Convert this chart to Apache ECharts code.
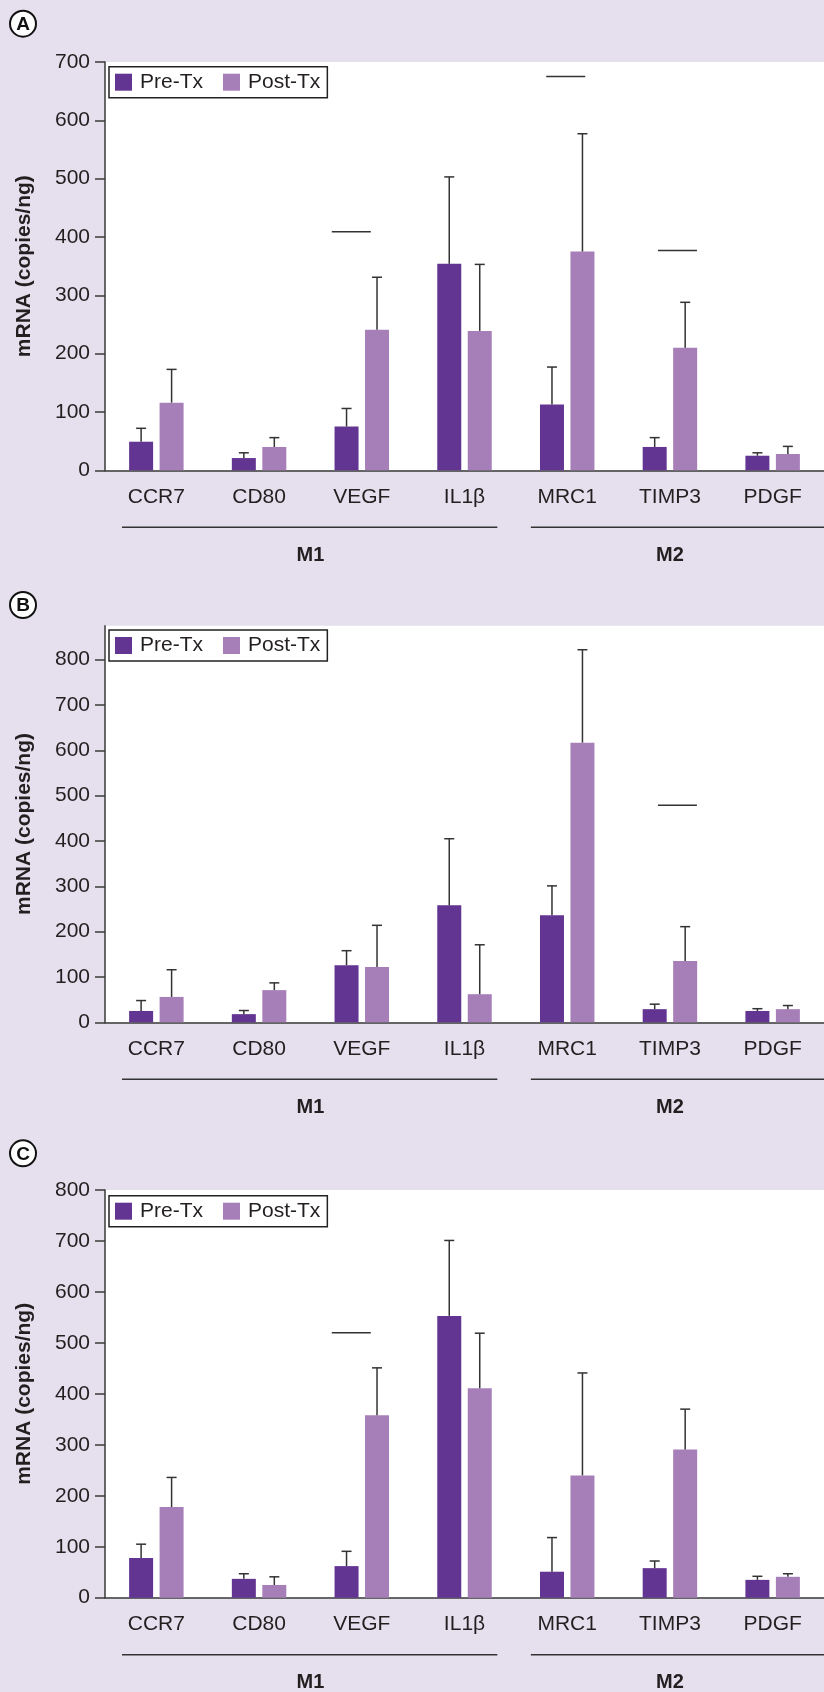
<!DOCTYPE html>
<html>
<head>
<meta charset="utf-8">
<script src="https://cdn.jsdelivr.net/npm/echarts@6/dist/echarts.min.js"></script>
<style>
html,body{margin:0;padding:0;background:#E6E0EE;}
#chart{width:824px;height:1692px;}
</style>
</head>
<body>
<div id="chart"></div>
<script>
// ---------- DATA ----------
const categories = ['CCR7', 'CD80', 'VEGF', 'IL1β', 'MRC1', 'TIMP3', 'PDGF'];
const seriesNames = ['Pre-Tx', 'Post-Tx'];
const panelLetters = ['A', 'B', 'C'];
const yTicksA = [0, 100, 200, 300, 400, 500, 600, 700];
const yTicksB = [0, 100, 200, 300, 400, 500, 600, 700, 800];
const yTicksC = [0, 100, 200, 300, 400, 500, 600, 700, 800];
const yMaxA = 700, yMaxB = 875, yMaxC = 800;

// Panel A
const preA     = [49, 21, 75, 354, 113, 40, 25];
const preErrA  = [72, 30, 106, 503, 177, 56, 30];
const postA    = [116, 40, 241, 239, 375, 210, 28];
const postErrA = [173, 56, 331, 353, 577, 288, 41];
const sigA     = [[2, 409], [4, 675], [5, 377]];   // [category index, value]

// Panel B
const preB     = [25, 18, 126, 258, 236, 29, 25];
const preErrB  = [48, 26, 158, 405, 301, 40, 30];
const postB    = [56, 71, 122, 62, 617, 135, 29];
const postErrB = [116, 87, 214, 171, 822, 211, 37];
const sigB     = [[5, 479]];

// Panel C
const preC     = [78, 37, 62, 553, 51, 58, 35];
const preErrC  = [105, 47, 91, 701, 118, 72, 42];
const postC    = [178, 25, 358, 411, 240, 291, 41];
const postErrC = [236, 41, 451, 519, 441, 370, 47];
const sigC     = [[2, 520]];

// Category groups: [label, first category index, last category index]
const groups = [['M1', 0, 3], ['M2', 4, 6]];

// ---------- STYLE ----------
const FONT = "'Liberation Sans', Arial, Helvetica, sans-serif";
const PRE_COLOR = '#633592';
const POST_COLOR = '#A67FB9';
const INK = '#231F20';
const AXIS = '#3a3a3a';
const BAR_W = 24;
const BAR_GAP = 0.27;
const HALF_OFF = (BAR_W + BAR_W * BAR_GAP) / 2;
// horizontal placement of significance lines relative to category centre (px)
const sigOffset = {2: -30, 4: -21, 5: -12};
const SIG_W = 39;
// group bracket insets [left, right] in px from the band edges
const groupInsets = [[17, 18.5], [15, -12]];

const gridsLayout = [
  {left: 105, right: -9, top: 62,    height: 408.3},
  {left: 105, right: -9, top: 625.7, height: 396.6},
  {left: 105, right: -9, top: 1190,  height: 407.7}
];
const legendTops = [66.7, 630, 1195.7];
const letterPos = [[23, 23.7], [23, 605], [23, 1153.3]];

const panels = [
  {pre: preA, preErr: preErrA, post: postA, postErr: postErrA, sig: sigA, ticks: yTicksA, max: yMaxA},
  {pre: preB, preErr: preErrB, post: postB, postErr: postErrB, sig: sigB, ticks: yTicksB, max: yMaxB},
  {pre: preC, preErr: preErrC, post: postC, postErr: postErrC, sig: sigC, ticks: yTicksC, max: yMaxC}
];

function errRender(offset) {
  return function (params, api) {
    const i = api.value(0), top = api.value(1), base = api.value(2);
    const p0 = api.coord([i, base]);
    const p1 = api.coord([i, top]);
    const x = p0[0] + offset;
    const st = {stroke: '#333', lineWidth: 1.5};
    return {type: 'group', children: [
      {type: 'line', shape: {x1: x, y1: p0[1], x2: x, y2: p1[1]}, style: st},
      {type: 'line', shape: {x1: x - 5, y1: p1[1], x2: x + 5, y2: p1[1]}, style: st}
    ]};
  };
}

function sigRender(params, api) {
  const i = api.value(0), v = api.value(1);
  const p = api.coord([i, v]);
  const x1 = p[0] + (sigOffset[i] || -SIG_W / 2);
  return {type: 'line', shape: {x1: x1, y1: p[1], x2: x1 + SIG_W, y2: p[1]},
          style: {stroke: '#333', lineWidth: 1.5}};
}

function groupRender(params, api) {
  const a = api.coord([api.value(0), 0]);
  const b = api.coord([api.value(1), 0]);
  const bw = api.size([1, 0])[0];
  const ins = groupInsets[params.dataIndex];
  const x1 = a[0] - bw / 2 + ins[0];
  const x2 = b[0] + bw / 2 - ins[1];
  const cx = (a[0] - bw / 2 + b[0] + bw / 2) / 2;
  const y = a[1];
  return {type: 'group', children: [
    {type: 'line', shape: {x1: x1, y1: y + 57, x2: x2, y2: y + 57},
     style: {stroke: '#333', lineWidth: 1.5}},
    {type: 'text', style: {text: groups[params.dataIndex][0], x: cx, y: y + 85,
      align: 'center', verticalAlign: 'middle', fill: INK,
      font: 'bold 20px ' + FONT}}
  ]};
}

const grid = [], xAxis = [], yAxis = [], series = [], legend = [], graphic = [];

panels.forEach((pn, k) => {
  grid.push(Object.assign({show: true, backgroundColor: '#ffffff', borderWidth: 0}, gridsLayout[k]));
  xAxis.push({
    type: 'category', gridIndex: k, data: categories,
    axisLine: {lineStyle: {color: AXIS, width: 1.5}},
    axisTick: {length: 12, lineStyle: {color: AXIS, width: 1.5}},
    axisLabel: {fontSize: 21, color: INK, fontFamily: FONT, margin: 16},
    splitLine: {show: false}
  });
  yAxis.push({
    type: 'value', gridIndex: k, min: 0, max: pn.max, interval: 100,
    name: 'mRNA (copies/ng)', nameLocation: 'middle', nameGap: 70, nameRotate: 90,
    nameTextStyle: {fontSize: 21, fontWeight: 'bold', color: INK, fontFamily: FONT},
    axisLine: {show: true, lineStyle: {color: AXIS, width: 1.5}},
    axisTick: {show: true, length: 10, lineStyle: {color: AXIS, width: 1.5}, customValues: pn.ticks},
    axisLabel: {fontSize: 21, color: INK, fontFamily: FONT, margin: 15, customValues: pn.ticks},
    splitLine: {show: false}
  });
  series.push({
    name: seriesNames[0], type: 'bar', xAxisIndex: k, yAxisIndex: k,
    data: pn.pre, barWidth: BAR_W, barGap: (BAR_GAP * 100) + '%',
    itemStyle: {color: PRE_COLOR}
  });
  series.push({
    name: seriesNames[1], type: 'bar', xAxisIndex: k, yAxisIndex: k,
    data: pn.post, barWidth: BAR_W, barGap: (BAR_GAP * 100) + '%',
    itemStyle: {color: POST_COLOR}
  });
  series.push({
    name: 'errPre' + k, type: 'custom', xAxisIndex: k, yAxisIndex: k, z: 3,
    renderItem: errRender(-HALF_OFF), clip: false,
    data: pn.pre.map((v, i) => [i, pn.preErr[i], v])
  });
  series.push({
    name: 'errPost' + k, type: 'custom', xAxisIndex: k, yAxisIndex: k, z: 3,
    renderItem: errRender(HALF_OFF), clip: false,
    data: pn.post.map((v, i) => [i, pn.postErr[i], v])
  });
  series.push({
    name: 'sig' + k, type: 'custom', xAxisIndex: k, yAxisIndex: k, z: 3,
    renderItem: sigRender, clip: false, data: pn.sig
  });
  series.push({
    name: 'groups' + k, type: 'custom', xAxisIndex: k, yAxisIndex: k, z: 3,
    renderItem: groupRender, clip: false, data: groups.map(g => [g[1], g[2]])
  });
  legend.push({
    data: seriesNames, left: 109, top: legendTops[k], orient: 'horizontal',
    icon: 'rect', itemWidth: 17, itemHeight: 17, itemGap: 20,
    backgroundColor: '#ffffff', borderColor: '#222', borderWidth: 1.5, borderRadius: 0,
    padding: [5, 7, 5, 6], selectedMode: false,
    textStyle: {fontSize: 21, color: INK, fontFamily: FONT, padding: [0, 0, 0, 3]}
  });
  graphic.push({type: 'circle', shape: {cx: letterPos[k][0], cy: letterPos[k][1], r: 13},
    style: {fill: '#ffffff', stroke: '#111', lineWidth: 2}, z: 10});
  graphic.push({type: 'text', x: letterPos[k][0], y: letterPos[k][1] + 1, z: 11,
    style: {text: panelLetters[k], align: 'center', verticalAlign: 'middle',
      font: 'bold 19px ' + FONT, fill: '#111'}});
});

const chart = echarts.init(document.getElementById('chart'));
chart.setOption({
  backgroundColor: '#E6E0EE',
  animation: false,
  textStyle: {fontFamily: FONT},
  grid: grid, xAxis: xAxis, yAxis: yAxis, series: series, legend: legend, graphic: graphic
});
</script>
</body>
</html>
